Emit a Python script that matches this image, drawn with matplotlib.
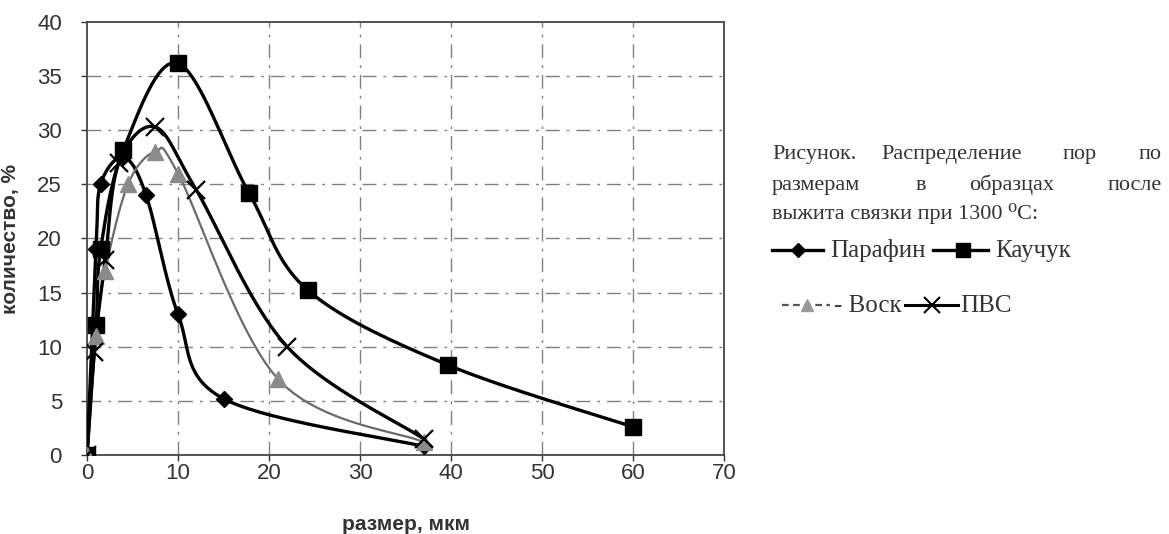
import numpy as np
import matplotlib
matplotlib.use("Agg")
import matplotlib.pyplot as plt
from matplotlib.lines import Line2D

# данные
x_paraffin = [0, 1, 1.5, 4, 6.5, 10, 15, 37]
y_paraffin = [0, 19, 25, 27.5, 24, 13, 5.2, 0.8]

x_rubber = [0, 1, 1.5, 4, 10, 17.8, 24.3, 39.7, 60]
y_rubber = [0, 12, 19, 28.2, 36.2, 24.2, 15.2, 8.3, 2.6]

x_wax = [0, 1, 2, 4.5, 7.5, 10, 21, 37]
y_wax = [0, 11, 17, 25, 28, 26, 7, 1.2]

x_pva = [0, 0.8, 2, 3.5, 7.5, 12, 22, 37]
y_pva = [0, 9.5, 18, 27, 30.3, 24.5, 10, 1.5]

x_ticks = [0, 10, 20, 30, 40, 50, 60, 70]
y_ticks = [0, 5, 10, 15, 20, 25, 30, 35, 40]

caption = [
    ["Рисунок.", "Распределение", "пор", "по"],
    ["размерам", "в", "образцах", "после"],
]
caption_last = "выжита связки при 1300 \u2070C:"


def smooth(xs, ys, n=20):
    # сглаживание линии как в Excel (Catmull-Rom в экранных единицах)
    sx, sy = 637 / 70, 433 / 40
    p = np.column_stack([np.array(xs) * sx, np.array(ys) * sy])
    p = np.vstack([p[0], p, p[-1]])
    out = []
    t = np.linspace(0, 1, n)[:, None]
    for i in range(1, len(p) - 2):
        p0, p1, p2, p3 = p[i - 1], p[i], p[i + 1], p[i + 2]
        seg = 0.5 * ((2 * p1) + (-p0 + p2) * t + (2 * p0 - 5 * p1 + 4 * p2 - p3) * t ** 2
                     + (-p0 + 3 * p1 - 3 * p2 + p3) * t ** 3)
        out.append(seg)
    c = np.vstack(out)
    return c[:, 0] / sx, c[:, 1] / sy


fig = plt.figure(figsize=(11.69, 5.34), dpi=100)
ax = fig.add_axes([87 / 1169, 79 / 534, 637 / 1169, 433 / 534])

grid_style = dict(color="#555555", lw=1.0, ls=(0, (10, 5, 2, 5)), alpha=0.75, zorder=1)
for gx in x_ticks[1:-1]:
    ax.axvline(gx, **grid_style)
for gy in y_ticks[1:-1]:
    ax.axhline(gy, **grid_style)

series = [
    (x_paraffin, y_paraffin, dict(color="black", lw=2.4), dict(marker="D", ms=8, color="black")),
    (x_rubber, y_rubber, dict(color="black", lw=2.4), dict(marker="s", ms=12, color="black")),
    (x_wax, y_wax, dict(color="#6a6a6a", lw=1.6), dict(marker="^", ms=11, color="#8a8a8a")),
    (x_pva, y_pva, dict(color="black", lw=2.4), dict(marker="x", ms=13, mew=1.6, color="black")),
]
for xs, ys, lst, mst in series:
    cx, cy = smooth(xs, ys)
    ax.plot(cx, cy, zorder=3, **lst)
    ax.plot(xs, ys, ls="none", zorder=4, **mst)

ax.set_xlim(0, 70)
ax.set_ylim(0, 40)
ax.set_xticks(x_ticks)
ax.set_yticks(y_ticks)
ax.tick_params(labelsize=16, length=4, width=1, colors="#333333")
ax.tick_params(axis="y", pad=14)
ax.tick_params(axis="x", pad=2)
for lab in ax.get_xticklabels() + ax.get_yticklabels():
    lab.set_family("Liberation Sans")
for s in ax.spines.values():
    s.set_color("#444444")
    s.set_linewidth(1.3)
ax.set_xlabel("размер, мкм", fontsize=15, fontweight="bold", family="Liberation Sans",
              color="#333333", labelpad=22)
ax.set_ylabel("количество, %", fontsize=15, fontweight="bold", family="Liberation Sans",
              color="#333333", labelpad=12)

# подпись рисунка и легенда справа
ov = fig.add_axes([0, 0, 1, 1], facecolor="none")
ov.set_xlim(0, 1169)
ov.set_ylim(534, 0)
ov.axis("off")

cstyle = dict(fontsize=16, family=["Liberation Serif", "DejaVu Serif"], color="#333333", va="baseline")
lstyle = dict(cstyle, fontsize=18)
line_y = [159, 190, 219]
centers = [[None, 952, 1080, None], [None, 921, 1012, None]]
for row, yy, cs in zip(caption, line_y, centers):
    ov.text(772, yy, row[0], ha="left", **cstyle)
    ov.text(cs[1], yy, row[1], ha="center", **cstyle)
    ov.text(cs[2], yy, row[2], ha="center", **cstyle)
    ov.text(1162, yy, row[3], ha="right", **cstyle)
ov.text(772, line_y[2], caption_last, ha="left", **cstyle)

# легенда
ov.add_line(Line2D([772, 823], [250, 250], color="black", lw=2.4))
ov.plot([798], [250], marker="D", ms=7, color="black")
ov.text(830, 257, "Парафин", ha="left", **lstyle)
ov.add_line(Line2D([933, 988], [250, 250], color="black", lw=2.4))
ov.plot([963], [250], marker="s", ms=10, color="black")
ov.text(995, 257, "Каучук", ha="left", **lstyle)

ov.add_line(Line2D([782, 830], [305, 305], color="#555555", lw=1.6, ls=(0, (3, 2))))
ov.plot([807], [305], marker="^", ms=9, color="#999999")
ov.text(834, 312, "- Воск", ha="left", **lstyle)
ov.add_line(Line2D([905, 958], [305, 305], color="black", lw=2.2))
ov.plot([932], [305], marker="x", ms=11, mew=1.5, color="black")
ov.text(960, 312, "ПВС", ha="left", **lstyle)

fig.savefig("out.png", dpi=100)
